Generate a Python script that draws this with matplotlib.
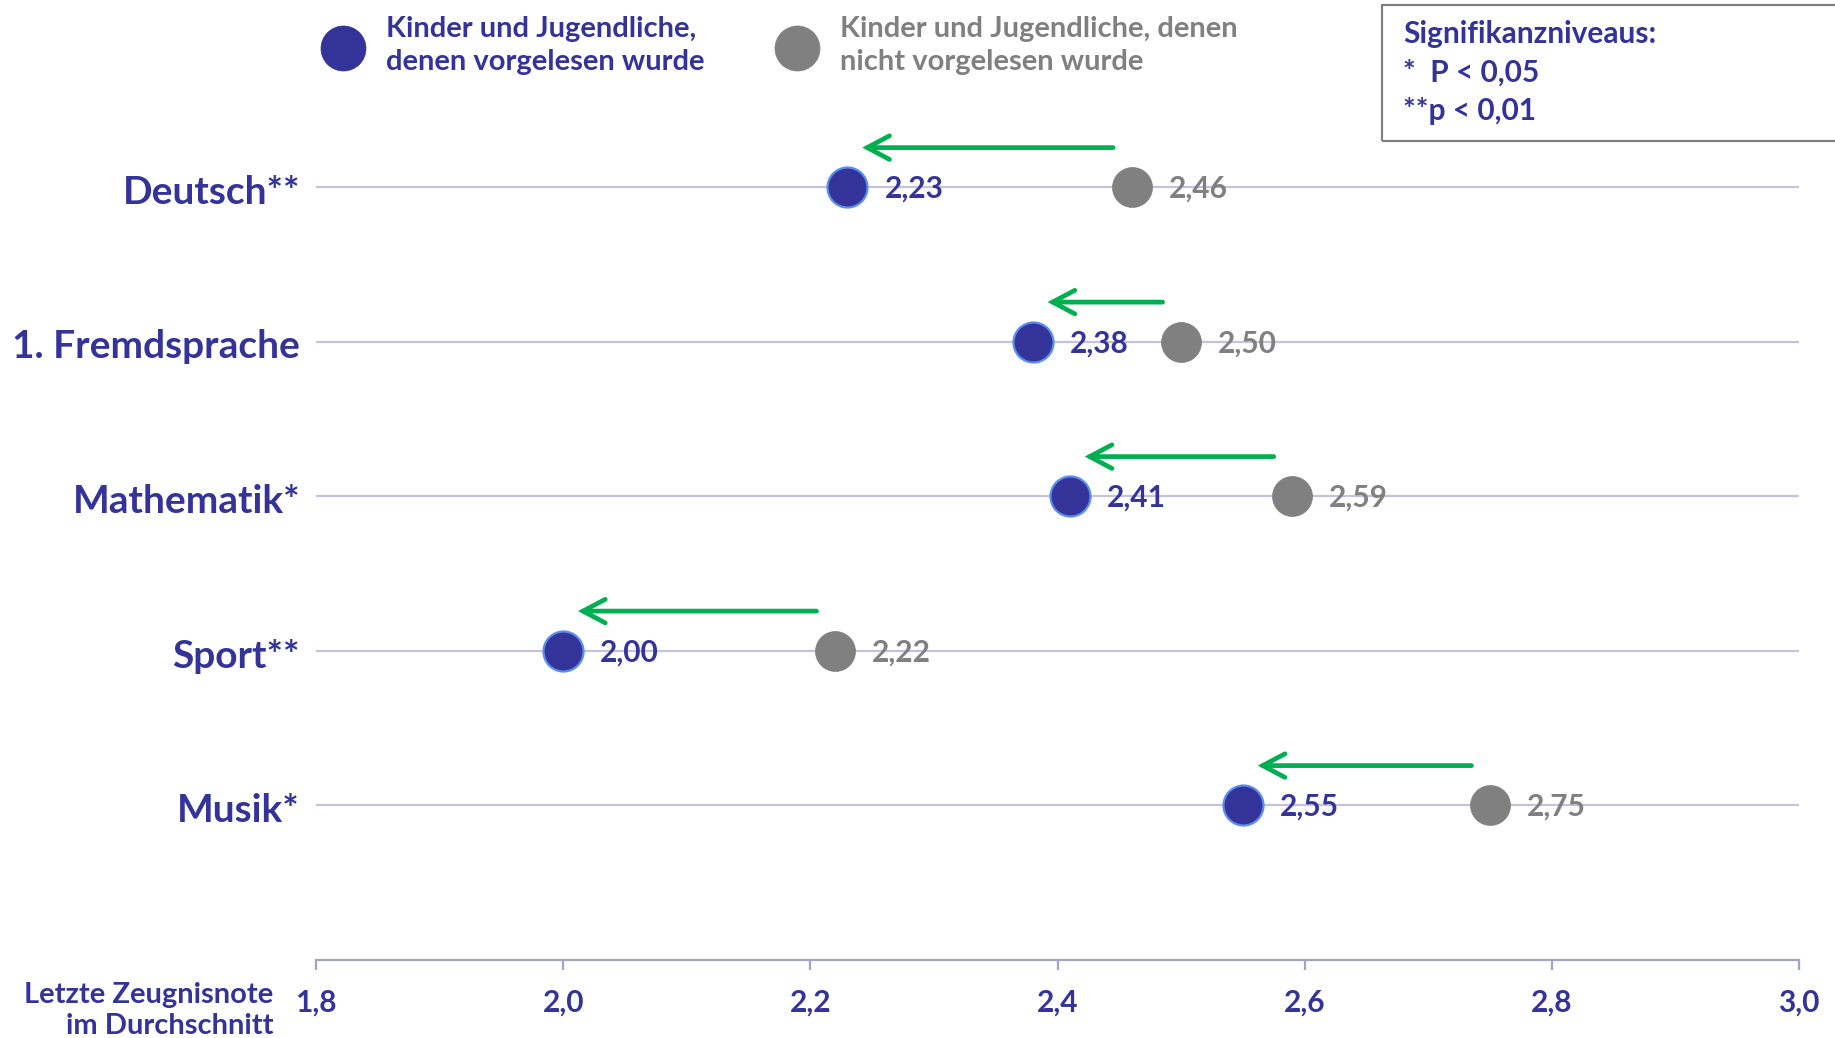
import matplotlib
matplotlib.use("Agg")
import matplotlib.pyplot as plt
from matplotlib.lines import Line2D
from matplotlib.patches import Rectangle
from matplotlib.transforms import ScaledTranslation, blended_transform_factory

# ---- data ----
categories = ["Deutsch**", "1. Fremdsprache", "Mathematik*", "Sport**", "Musik*"]
vorgelesen = [2.23, 2.38, 2.41, 2.00, 2.55]
nicht_vorgelesen = [2.46, 2.50, 2.59, 2.22, 2.75]
xticks = [1.8, 2.0, 2.2, 2.4, 2.6, 2.8, 3.0]
xtick_labels = ["1,8", "2,0", "2,2", "2,4", "2,6", "2,8", "3,0"]
legend_labels = [["Kinder und Jugendliche,", "denen vorgelesen wurde"],
                 ["Kinder und Jugendliche, denen", "nicht vorgelesen wurde"]]
box_lines = ["Signifikanzniveaus:", "*  P < 0,05", "**p < 0,01"]
axis_label = ["Letzte Zeugnisnote", "im Durchschnitt"]

BLUE = "#333399"
BLUE_EDGE = "#5B8DEF"
GRAY = "#808080"
GREEN = "#00B050"
GRID = "#C3C3DA"
AXC = "#A3A3C6"
FONT = "Lato"

W, H = 1835, 1038
DPI = 100
fig = plt.figure(figsize=(W / DPI, H / DPI), dpi=DPI)
plt.rcParams['font.family'] = [FONT, 'DejaVu Sans']

def fx(px):
    return px / W

def fy(py):
    return 1 - py / H

def pt(px):
    return px * 72 / DPI

ax = fig.add_axes([316 / W, (H - 959.5) / H, (1799 - 316) / W, 959.5 / H])
n = len(categories)
ypos = [n - 1 - i for i in range(n)]
ax.set_xlim(1.8, 3.0)
ax.set_ylim(-1.0, 805 / 154.5)

for y in ypos:
    ax.axhline(y, color=GRID, lw=1.6, zorder=1)

ax.plot(vorgelesen, ypos, 'o', ms=pt(40), mfc=BLUE, mec=BLUE_EDGE, mew=1.6, zorder=3, linestyle='none')
ax.plot(nicht_vorgelesen, ypos, 'o', ms=pt(40), mfc=GRAY, mec=GRAY, mew=0.5, zorder=3, linestyle='none')

for b, g, y in zip(vorgelesen, nicht_vorgelesen, ypos):
    ax.annotate(f"{b:.2f}".replace('.', ','), xy=(b, y), xytext=(pt(37), -pt(11)), textcoords='offset points',
                ha='left', va='baseline', color=BLUE, fontsize=21.5, fontweight='bold', zorder=4)
    ax.annotate(f"{g:.2f}".replace('.', ','), xy=(g, y), xytext=(pt(37), -pt(11)), textcoords='offset points',
                ha='left', va='baseline', color=GRAY, fontsize=21.5, fontweight='bold', zorder=4)
    ax.annotate('', xy=(b + 0.012, y + 0.255), xytext=(g - 0.015, y + 0.255),
                arrowprops=dict(arrowstyle='->,head_length=1.6,head_width=0.85', lw=3.4,
                                color=GREEN, shrinkA=0, shrinkB=0, joinstyle='miter'),
                zorder=5)

for s in ['top', 'right', 'left']:
    ax.spines[s].set_visible(False)
ax.spines['bottom'].set_color(AXC)
ax.spines['bottom'].set_linewidth(1.6)
ax.set_xticks(xticks)
ax.set_xticklabels(xtick_labels)
ax.tick_params(axis='x', colors=AXC, length=7, width=1.6, pad=14, labelsize=21.5)
for lab in ax.get_xticklabels():
    lab.set_color(BLUE)
    lab.set_fontweight('bold')
ax.set_yticks([])

# category labels (right-aligned left of the axes)
btrans = blended_transform_factory(ax.transAxes, ax.transData)
for cat, y in zip(categories, ypos):
    ax.text(0, y, cat, ha='right', va='baseline', color=BLUE, fontsize=28, fontweight='bold',
            transform=btrans + ScaledTranslation(-16 / DPI, -17 / DPI, fig.dpi_scale_trans))
ax.patch.set_visible(False)

# axis label
fig.text(fx(273), fy(1003), axis_label[0], ha='right', va='baseline', color=BLUE, fontsize=21, fontweight='bold')
fig.text(fx(273), fy(1034), axis_label[1], ha='right', va='baseline', color=BLUE, fontsize=21, fontweight='bold')

# legend
for (mx, tx, col, lines) in [(343, 386, BLUE, legend_labels[0]), (797, 840, GRAY, legend_labels[1])]:
    fig.add_artist(Line2D([fx(mx)], [fy(48)], transform=fig.transFigure, marker='o', ms=pt(45),
                          mfc=col, mec=col, mew=0.5, linestyle='none'))
    fig.text(fx(tx), fy(37), lines[0], ha='left', va='baseline', color=col, fontsize=21, fontweight='bold')
    fig.text(fx(tx), fy(70), lines[1], ha='left', va='baseline', color=col, fontsize=21, fontweight='bold')

# significance box
fig.add_artist(Rectangle((fx(1382), fy(141)), fx(1860) - fx(1382), fy(5) - fy(141),
                         transform=fig.transFigure, fill=False, edgecolor=GRAY, lw=1.6))
for txt, bl in zip(box_lines, [43, 82, 120]):
    fig.text(fx(1403), fy(bl), txt, ha='left', va='baseline', color=BLUE, fontsize=21.5, fontweight='bold')

fig.savefig("out.png", dpi=DPI, facecolor='white')
